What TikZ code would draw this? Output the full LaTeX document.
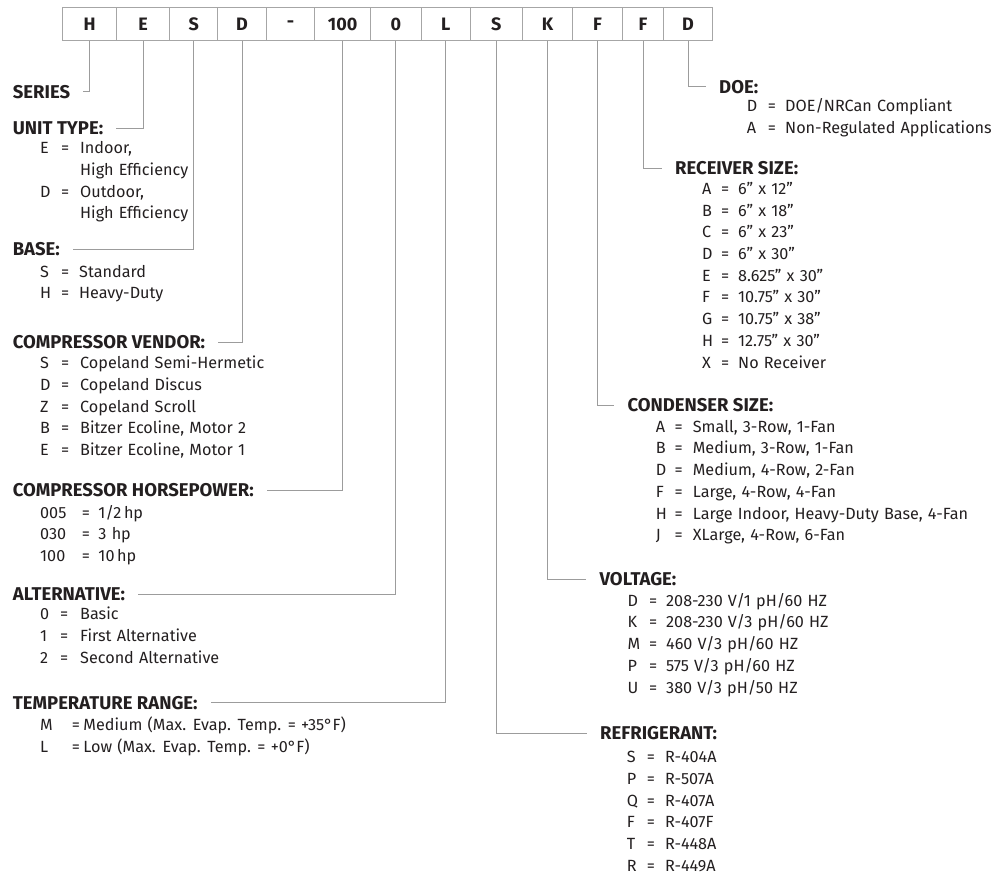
\documentclass[tikz,border=0pt]{standalone}
\usepackage{fontspec}
\setmainfont{Fira Sans}
\usetikzlibrary{positioning}
\definecolor{celledge}{HTML}{A6A6A6}
\definecolor{leadline}{HTML}{9C9C9C}
\definecolor{ink}{HTML}{231F20}
\newcommand{\listfont}{\fontsize{16.2}{21.7}\selectfont\spaceskip 0.32em plus 0.1em\relax}
\newcommand{\codelist}[3]{\begin{tabular}[t]{@{}p{#1}@{}p{#2}@{}l@{}}#3\end{tabular}}

\begin{document}
\begin{tikzpicture}[x=1pt, y=-1pt,
  cell/.style={draw=celledge, line width=1pt, anchor=north west, inner sep=0pt,
               minimum height=33pt, font=\fontsize{18}{20}\selectfont\bfseries, text=ink},
  head/.style={anchor=west, inner xsep=13pt, inner ysep=2pt,
               font=\fontsize{18.5}{20}\selectfont\bfseries, text=ink},
  lst/.style={anchor=base west, inner sep=0pt, text=ink, font=\listfont},
  lead/.style={draw=leadline, line width=1pt},
]
\useasboundingbox (0,0) rectangle (1006,877);
% model number cells
\node[cell, minimum width=53.7pt] (b1)  at (62.3,7)  {H};
\node[cell, minimum width=53.3pt] (b2)  at (116,7)   {E};
\node[cell, minimum width=48pt]   (b3)  at (169.3,7) {S};
\node[cell, minimum width=48.4pt] (b4)  at (217.3,7) {D};
\node[cell, minimum width=48.6pt] (b5)  at (265.7,7) {-};
\node[cell, minimum width=55.7pt] (b6)  at (314.3,7) {100};
\node[cell, minimum width=50.7pt] (b7)  at (370,7)   {0};
\node[cell, minimum width=49.3pt] (b8)  at (420.7,7) {L};
\node[cell, minimum width=51.7pt] (b9)  at (470,7)   {S};
\node[cell, minimum width=50.6pt] (b10) at (521.7,7) {K};
\node[cell, minimum width=49.4pt] (b11) at (572.3,7) {F};
\node[cell, minimum width=41.6pt] (b12) at (621.7,7) {F};
\node[cell, minimum width=48.4pt] (b13) at (663.3,7) {D};

% left column
\node[head] (series) at (-0.3,92) {SERIES};
\node[head] (unit) at (-0.3,128.3) {UNIT TYPE:};
\node[lst] (unitlst) at (40,153.8) {\codelist{21pt}{19pt}{
  E & = & Indoor,\\ & & High Efficiency\\ D & = & Outdoor,\\ & & High Efficiency}};
\node[head] (base) at (-0.3,249.3) {BASE:};
\node[lst] (baselst) at (40,277.2) {\codelist{21pt}{18pt}{
  S & = & Standard\\ H & = & Heavy-Duty}};
\node[head] (vendor) at (-0.3,342.3) {COMPRESSOR VENDOR:};
\node[lst] (vendorlst) at (40,368.8) {\codelist{21pt}{19pt}{
  S & = & Copeland Semi-Hermetic\\ D & = & Copeland Discus\\ Z & = & Copeland Scroll\\
  B & = & Bitzer Ecoline, Motor 2\\ E & = & Bitzer Ecoline, Motor 1}};
\node[head] (hp) at (-0.3,490) {COMPRESSOR HORSEPOWER:};
\node[lst] (hplst) at (40,518.2) {\codelist{41.7pt}{16.6pt}{
  005 & = & 1/2\,hp\\ 030 & = & 3 hp\\ 100 & = & 10\,hp}};
\node[head] (alt) at (-0.3,594) {ALTERNATIVE:};
\node[lst] (altlst) at (40,619.8) {\codelist{20pt}{20pt}{
  0 & = & Basic\\ 1 & = & First Alternative\\ 2 & = & Second Alternative}};
\node[head] (temp) at (-0.3,702.7) {TEMPERATURE RANGE:};
\node[lst] (templst) at (40,730.5) {\codelist{31.7pt}{11.6pt}{
  M & = & Medium (Max. Evap. Temp. = +35°F)\\ L & = & Low (Max. Evap. Temp. = +0°F)}};

% right column
\node[head] (doe) at (706,86.7) {DOE:};
\node[lst] (doelst) at (746.7,111.5) {\codelist{21pt}{17.3pt}{
  D & = & DOE/NRCan Compliant\\ A & = & Non-Regulated Applications}};
\node[head] (receiver) at (662,168.3) {RECEIVER SIZE:};
\node[lst] (receiverlst) at (702,194.5) {\codelist{19pt}{17pt}{
  A & = & 6” x 12”\\ B & = & 6” x 18”\\ C & = & 6” x 23”\\ D & = & 6” x 30”\\
  E & = & 8.625” x 30”\\ F & = & 10.75” x 30”\\ G & = & 10.75” x 38”\\
  H & = & 12.75” x 30”\\ X & = & No Receiver}};
\node[head] (condenser) at (614.3,405) {CONDENSER SIZE:};
\node[lst] (condenserlst) at (655.7,432.2) {\codelist{18.6pt}{18.4pt}{
  A & = & Small, 3-Row, 1-Fan\\ B & = & Medium, 3-Row, 1-Fan\\ D & = & Medium, 4-Row, 2-Fan\\
  F & = & Large, 4-Row, 4-Fan\\ H & = & Large Indoor, Heavy-Duty Base, 4-Fan\\
  J & = & XLarge, 4-Row, 6-Fan}};
\node[head] (voltage) at (586.3,579.3) {VOLTAGE:};
\node[lst] (voltagelst) at (627.3,606.2) {\codelist{21.7pt}{17pt}{
  D & = & 208-230 V/1 pH/60 HZ\\ K & = & 208-230 V/3 pH/60 HZ\\ M & = & 460 V/3 pH/60 HZ\\
  P & = & 575 V/3 pH/60 HZ\\ U & = & 380 V/3 pH/50 HZ}};
\node[head] (refrig) at (587,733.3) {REFRIGERANT:};
\node[lst] (refriglst) at (626.7,762.8) {\codelist{20pt}{18.3pt}{
  S & = & R-404A\\ P & = & R-507A\\ Q & = & R-407A\\ F & = & R-407F\\
  T & = & R-448A\\ R & = & R-449A}};

% leader lines
\draw[lead] (b1.south) |- (series.east);
\draw[lead] (b2.south) |- (unit.east);
\draw[lead] (b3.south) |- (base.east);
\draw[lead] (b4.south) |- (vendor.east);
\draw[lead] (b6.south) |- (hp.east);
\draw[lead] (b7.south) |- (alt.east);
\draw[lead] (b8.south) |- (temp.east);
\draw[lead] (b9.south) |- (refrig.west);
\draw[lead] (b10.south) |- (voltage.west);
\draw[lead] (b11.south) |- (condenser.west);
\draw[lead] (b12.south) |- (receiver.west);
\draw[lead] (b13.south) |- (doe.west);
\end{tikzpicture}
\end{document}
